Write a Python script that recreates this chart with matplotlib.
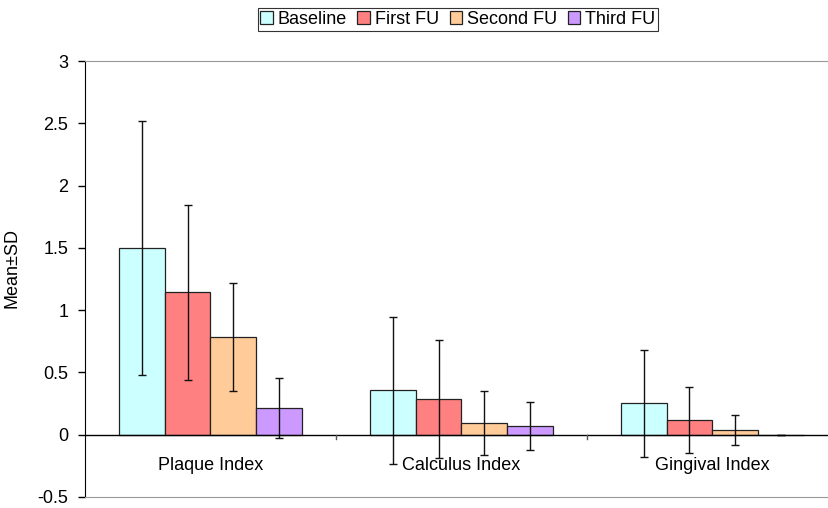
import numpy as np
import matplotlib
matplotlib.use('Agg')
import matplotlib.pyplot as plt

plt.rcParams['font.family'] = ['Liberation Sans', 'DejaVu Sans']

categories = ['Plaque Index', 'Calculus Index', 'Gingival Index']
series = ['Baseline', 'First FU', 'Second FU', 'Third FU']
colors = ['#CCFFFF', '#FF8080', '#FFCC99', '#CC99FF']

# mean values per series (one per category)
baseline = [1.50, 0.357, 0.254]
first_fu = [1.142, 0.286, 0.118]
second_fu = [0.784, 0.094, 0.037]
third_fu = [0.214, 0.067, 0.0]

# standard deviations
baseline_sd = [1.02, 0.59, 0.43]
first_fu_sd = [0.705, 0.473, 0.268]
second_fu_sd = [0.435, 0.256, 0.12]
third_fu_sd = [0.24, 0.193, 0.0]

means = [baseline, first_fu, second_fu, third_fu]
sds = [baseline_sd, first_fu_sd, second_fu_sd, third_fu_sd]

fig = plt.figure(figsize=(8.29, 5.08), dpi=100)
ax = fig.add_axes([0.1025, 0.0217, 0.908, 0.858])

x = np.arange(len(categories))
w = 0.182
for k in range(4):
    pos = x + (k - 1.5) * w
    ax.bar(pos, means[k], width=w, color=colors[k], edgecolor='#222222',
           linewidth=0.9, label=series[k], zorder=2)
    ax.errorbar(pos, means[k], yerr=sds[k], fmt='none', ecolor='#111111',
                elinewidth=1, capsize=3, capthick=1, zorder=3)

ax.set_xlim(-0.5, 2.5)
ax.set_ylim(-0.5, 3)
ax.set_yticks([-0.5, 0, 0.5, 1, 1.5, 2, 2.5, 3])
ax.set_yticklabels(['-0.5', '0', '0.5', '1', '1.5', '2', '2.5', '3'], fontsize=13)
ax.tick_params(axis='y', direction='out', length=5, width=1, color='black', pad=7)
ax.set_xticks([])

ax.spines['right'].set_visible(False)
ax.spines['top'].set_color('#999999')
ax.spines['bottom'].set_color('#999999')
ax.spines['left'].set_color('black')

# x axis at zero with category tick marks
ax.axhline(0, color='black', linewidth=1, zorder=4)
for t in [0.5, 1.5]:
    ax.plot([t, t], [0, -0.035], color='#555555', linewidth=1, zorder=4)

for i, c in enumerate(categories):
    ax.text(i, -0.245, c, ha='center', va='center', fontsize=13)

ax.set_ylabel('Mean±SD', fontsize=13)
ax.yaxis.set_label_coords(-0.086, 0.525)

leg = fig.legend(loc='center', bbox_to_anchor=(0.552, 0.962), ncol=4,
                 fontsize=13, frameon=True, fancybox=False, edgecolor='black',
                 handlelength=0.7, handleheight=0.7, handletextpad=0.25,
                 columnspacing=0.6, borderpad=0.15, borderaxespad=0)
leg.get_frame().set_linewidth(0.8)

fig.savefig('out.png', dpi=100)
